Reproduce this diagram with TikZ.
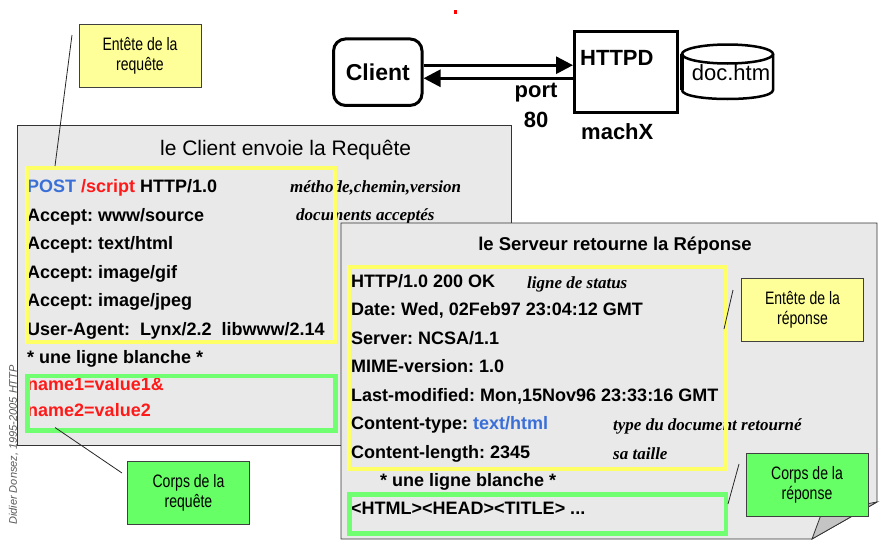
\documentclass[tikz,border=0pt]{standalone}
\usepackage{fontspec}
\setmainfont{Liberation Sans}
\newfontfamily\annofont{Liberation Serif}
\newfontfamily\narrowfont[FakeStretch=0.78]{Liberation Sans}
\usetikzlibrary{arrows.meta,positioning}
\frenchspacing

\definecolor{pagegray}{HTML}{E9E9E9}
\definecolor{foldgray}{HTML}{C4C4C4}
\definecolor{frameyellow}{HTML}{FFFF66}
\definecolor{framegreen}{HTML}{70FF70}
\definecolor{labelyellow}{HTML}{FFFF99}
\definecolor{labelgreen}{HTML}{66FF66}
\definecolor{postblue}{HTML}{3A6FD8}
\definecolor{pathred}{HTML}{FF1A1A}

\tikzset{
    page/.style={draw=black!80, fill=pagegray, line width=0.8pt},
    hdrline/.style={anchor=base west, inner sep=0pt, font=\fontsize{18}{20}\selectfont\bfseries},
    anno/.style={anchor=base west, inner sep=0pt, font=\fontsize{17}{19}\annofont\bfseries\itshape},
    yframe/.style={draw=frameyellow, line width=4pt, anchor=north west, inner sep=0pt},
    gframe/.style={draw=framegreen, line width=4.5pt, anchor=north west, inner sep=0pt},
    notebox/.style={draw=black!75, line width=0.8pt, align=center, inner sep=0pt,
        font=\fontsize{18}{20}\narrowfont, minimum width=122pt, minimum height=63pt},
    callout/.style={draw=black!85, line width=0.8pt},
    bigtext/.style={font=\fontsize{22}{30}\selectfont\bfseries, inner sep=0pt},
    conn/.style={line width=3pt, -{Triangle[length=17pt,width=17pt]}}
}

\begin{document}
\begin{tikzpicture}[x=1pt,y=-1pt]
    \useasboundingbox (0,0) rectangle (882,546);

    % the machines
    \fill[red] (453.5,9.5) rectangle (456.5,14);
    \node[draw, line width=3pt, rounded corners=12pt, minimum width=88.5pt, minimum height=66.5pt,
        font=\fontsize{23}{23}\selectfont\bfseries] (client) at (377.8,72.2) {Client};
    \node[draw, line width=3pt, minimum width=102.5pt, minimum height=80.5pt] (httpd) at (625.75,71.75) {};
    \node[bigtext, below right=20pt and 7pt of httpd.north west] (httpdname) {HTTPD};
    \node[bigtext, below right=10pt and 8pt of httpd.south west] (machx) {machX};
    \node[bigtext, align=center, anchor=base] (port) at (536,127) {port\\80};
    \draw[conn] ([yshift=7pt]client.east) -- ([yshift=7pt]client.east -| httpd.west);
    \draw[conn] ([yshift=-6.5pt]httpd.west) -- ([yshift=-6.5pt]httpd.west -| client.east);

    % doc.htm
    \draw[line width=2.5pt] (727.5,54) ellipse [x radius=45.5, y radius=9.5];
    \draw[line width=2.5pt] (773,54) -- (773,90) .. controls (773,102) and (682,102) .. (682,90);
    \draw[line width=4pt] (682,54) -- (682,90);
    \node[font=\fontsize{22}{22}\selectfont, inner sep=0pt, anchor=base] (doc) at (731,80) {doc.htm};

    % la requete
    \node[page, anchor=north west, minimum width=494pt, minimum height=320pt, inner sep=0pt] (reqpage) at (17,125) {};
    \node[font=\fontsize{21}{21}\selectfont, inner sep=0pt, anchor=base] (reqtitle) at (285.6,155) {le Client envoie la Requ\^ete};
    \node[hdrline] (req1) at (27,192.5) {\textcolor{postblue}{POST} \textcolor{pathred}{/script} HTTP/1.0};
    \node[hdrline] (req2) at (27,221) {Accept: www/source};
    \node[hdrline] (req3) at (27,249.5) {Accept: text/html};
    \node[hdrline] (req4) at (27,278) {Accept: image/gif};
    \node[hdrline] (req5) at (27,306.5) {Accept: image/jpeg};
    \node[hdrline] (req6) at (27,335) {User-Agent:\ \ Lynx/2.2\ \ libwww/2.14};
    \node[hdrline] (reqblank) at (27,363.5) {* une ligne blanche *};
    \node[hdrline, text=pathred] (reqdata1) at (27,390) {name1=value1\&};
    \node[hdrline, text=pathred] (reqdata2) at (27,416.5) {name2=value2};
    \node[anno] (reqnote1) at (290,192.5) {m\'ethode,chemin,version};
    \node[anno] (reqnote2) at (296,220.5) {documents accept\'es};
    \node[yframe, minimum width=308.5pt, minimum height=174pt] (reqhead) at (24.5,166) {};
    \node[gframe, minimum width=308pt, minimum height=54.5pt] (reqbody) at (25,373.5) {};

    \node[notebox, fill=labelyellow] (reqheadlbl) at (140,56) {Ent\^ete de la\\requ\^ete};
    \node[notebox, fill=labelgreen] (reqbodylbl) at (188.5,492.5) {Corps de la\\requ\^ete};
    \coordinate (reqheadtip) at (72,35);
    \coordinate (reqbodytip) at (122,473);
    \draw[callout] (reqheadtip) -- ([xshift=30.5pt]reqhead.north west);
    \draw[callout] (reqbodytip) -- ([xshift=30pt,yshift=5pt]reqbody.south west);

    % la reponse
    \draw[page] (341,223) -- (877,223) -- (877,502) -- (812,539) -- (341,539) -- cycle;
    \draw[fill=foldgray, draw=black!80, line width=0.8pt] (812,539) -- (822,512) -- (877,502) -- cycle;
    \node[font=\fontsize{18.5}{20}\selectfont\bfseries, inner sep=0pt, anchor=base] (resptitle) at (615,250) {le Serveur retourne la R\'eponse};
    \node[hdrline] (resp1) at (351,287) {HTTP/1.0 200 OK};
    \node[hdrline] (resp2) at (351,315.5) {Date: Wed, 02Feb97 23:04:12 GMT};
    \node[hdrline] (resp3) at (351,344) {Server: NCSA/1.1};
    \node[hdrline] (resp4) at (351,372.5) {MIME-version: 1.0};
    \node[hdrline] (resp5) at (351,401) {Last-modified: Mon,15Nov96 23:33:16 GMT};
    \node[hdrline] (resp6) at (351,429.5) {Content-type: \textcolor{postblue}{text/html}};
    \node[hdrline] (resp7) at (351,458) {Content-length: 2345};
    \node[hdrline] (respblank) at (380,486) {* une ligne blanche *};
    \node[hdrline] (respdata) at (351,514.5) {<HTML><HEAD><TITLE> ...};
    \node[anno] (respnote1) at (527,288) {ligne de status};
    \node[anno] (respnote2) at (613,430) {type du document retourn\'e};
    \node[anno] (respnote3) at (613,459) {sa taille};
    \node[yframe, minimum width=377pt, minimum height=202pt] (resphead) at (347,265) {};
    \node[gframe, minimum width=376.5pt, minimum height=39pt] (respbody) at (347,492) {};

    \node[notebox, fill=labelyellow] (respheadlbl) at (802.5,310) {Ent\^ete de la\\r\'eponse};
    \node[notebox, fill=labelgreen] (respbodylbl) at (807,485) {Corps de la\\r\'eponse};
    \coordinate (respheadtip) at (733,290);
    \coordinate (respbodytip) at (739,464);
    \draw[callout] (respheadtip) -- ([xshift=-4pt,yshift=39pt]resphead.east);
    \draw[callout] (respbodytip) -- ([yshift=-12pt]respbody.north east);

    % signature
    \node[rotate=90, font=\fontsize{11}{12}\selectfont\itshape, text=black!65, inner sep=0pt] (sign) at (13.5,445) {Didier Donsez, 1995-2005 HTTP};
\end{tikzpicture}
\end{document}
